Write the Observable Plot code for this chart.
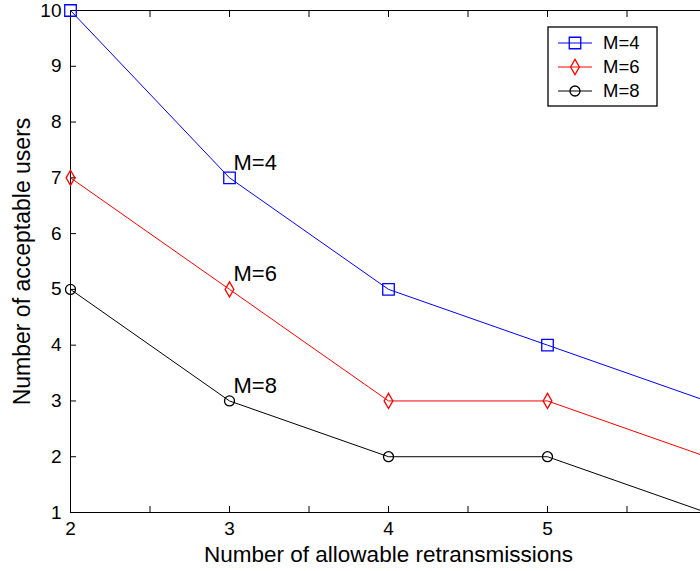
<!DOCTYPE html>
<html>
<head>
<meta charset="utf-8">
<script src="https://cdn.jsdelivr.net/npm/d3@7"></script>
<script src="https://cdn.jsdelivr.net/npm/@observablehq/plot@0.6"></script>
<style>
  html, body { margin: 0; padding: 0; background: #fff; overflow: hidden; }
  #wrap { position: relative; width: 700px; height: 571px; overflow: hidden; }
  #legend { position: absolute; left: 0; top: 0; }
  #wrap svg g[aria-label$="tick label"], #wrap svg g[aria-label$="tick label"] text { font-size: 19px !important; }
</style>
</head>
<body>
<div id="wrap"></div>
<script>
// Data
const retransmissions = [2, 3, 4, 5, 6];
const seriesNames = ["M=4", "M=6", "M=8"];
const usersM4 = [10, 7, 5, 4, 3];
const usersM6 = [7, 5, 3, 3, 2];
const usersM8 = [5, 3, 2, 2, 1];
const seriesColors = ["#0000ff", "#ff0000", "#000000"];
const seriesSymbols = ["square", "diamond", "circle"];
const xTicks = [2, 2.5, 3, 3.5, 4, 4.5, 5, 5.5, 6];
const yTicks = [1, 2, 3, 4, 5, 6, 7, 8, 9, 10];
const xLabel = "Number of allowable retransmissions";
const yLabel = "Number of acceptable users";
const annotationX = 3;

const seriesValues = [usersM4, usersM6, usersM8];
const rows = [];
seriesNames.forEach((name, i) => {
  retransmissions.forEach((x, j) => rows.push({series: name, x, y: seriesValues[i][j]}));
});
const annotations = seriesNames.map((name, i) => ({
  label: name, x: annotationX, y: seriesValues[i][retransmissions.indexOf(annotationX)]
}));

const font = "'Liberation Sans', Arial, Helvetica, sans-serif";
const symbolSizes = {square: 6.5, diamond: 4.6, circle: 5};
const tickFont = 19;

const marks = [
  Plot.frame({stroke: "#000", strokeWidth: 1}),
  Plot.axisX({anchor: "bottom", ticks: xTicks, tickSize: -6, fontSize: tickFont,
    tickFormat: d => Number.isInteger(d) ? String(d) : "", label: null}),
  Plot.axisX({anchor: "top", ticks: xTicks, tickSize: -6, tickFormat: () => "", label: null}),
  Plot.axisY({anchor: "left", ticks: yTicks, tickSize: -6, fontSize: tickFont,
    tickFormat: d => String(d), label: null}),
  Plot.axisY({anchor: "right", ticks: yTicks, tickSize: -6, tickFormat: () => "", label: null}),
  Plot.text([xLabel], {frameAnchor: "bottom", text: d => d, dy: 42, fontSize: 22.5,
    lineAnchor: "middle", textAnchor: "middle", fill: "#000"}),
  Plot.text([yLabel], {frameAnchor: "left", text: d => d, dx: -48, rotate: -90, fontSize: 23,
    lineAnchor: "middle", textAnchor: "middle", fill: "#000"}),
];
seriesNames.forEach((name, i) => {
  const data = rows.filter(d => d.series === name);
  marks.push(Plot.line(data, {x: "x", y: "y", stroke: seriesColors[i], strokeWidth: 1}));
  marks.push(Plot.dot(data, {x: "x", y: "y", stroke: seriesColors[i], strokeWidth: 1.3,
    symbol: () => seriesSymbols[i], r: symbolSizes[seriesSymbols[i]], fill: "none"}));
});
marks.push(Plot.text(annotations, {x: "x", y: "y", text: "label", textAnchor: "start",
  dx: 4, dy: -15, fontSize: 22, fill: "#000"}));

const chart = Plot.plot({
  width: 710,
  height: 571,
  marginLeft: 70,
  marginRight: 4,
  marginTop: 10,
  marginBottom: 59,
  style: {fontFamily: font, fontSize: tickFont + "px", color: "#000", background: "#fff",
    overflow: "visible", maxWidth: "none"},
  x: {domain: [2, 6]},
  y: {domain: [1, 10]},
  marks
});
chart.style.maxWidth = "none";
document.getElementById("wrap").appendChild(chart);

// Legend (overlay)
const leg = d3.select("#wrap").append("svg").attr("id", "legend")
  .attr("width", 700).attr("height", 571)
  .style("font-family", font);
const box = {x: 548, y: 27, w: 109, h: 79};
leg.append("rect").attr("x", box.x).attr("y", box.y).attr("width", box.w).attr("height", box.h)
  .attr("fill", "#fff").attr("stroke", "#000").attr("stroke-width", 1.3);
const symMap = {square: d3.symbolSquare, diamond: d3.symbolDiamond, circle: d3.symbolCircle};
seriesNames.forEach((name, i) => {
  const cy = box.y + 16 + i * 24;
  const g = leg.append("g");
  g.append("line").attr("x1", box.x + 10).attr("x2", box.x + 44).attr("y1", cy).attr("y2", cy)
    .attr("stroke", seriesColors[i]).attr("stroke-width", 1);
  const r = symbolSizes[seriesSymbols[i]];
  g.append("path").attr("transform", `translate(${box.x + 27},${cy})`)
    .attr("d", d3.symbol(symMap[seriesSymbols[i]], Math.PI * r * r)())
    .attr("fill", "none").attr("stroke", seriesColors[i]).attr("stroke-width", 1.3);
  g.append("text").attr("x", box.x + 55).attr("y", cy).attr("dy", "0.35em")
    .attr("font-size", 18.5).attr("fill", "#000").text(name);
});
</script>
</body>
</html>
